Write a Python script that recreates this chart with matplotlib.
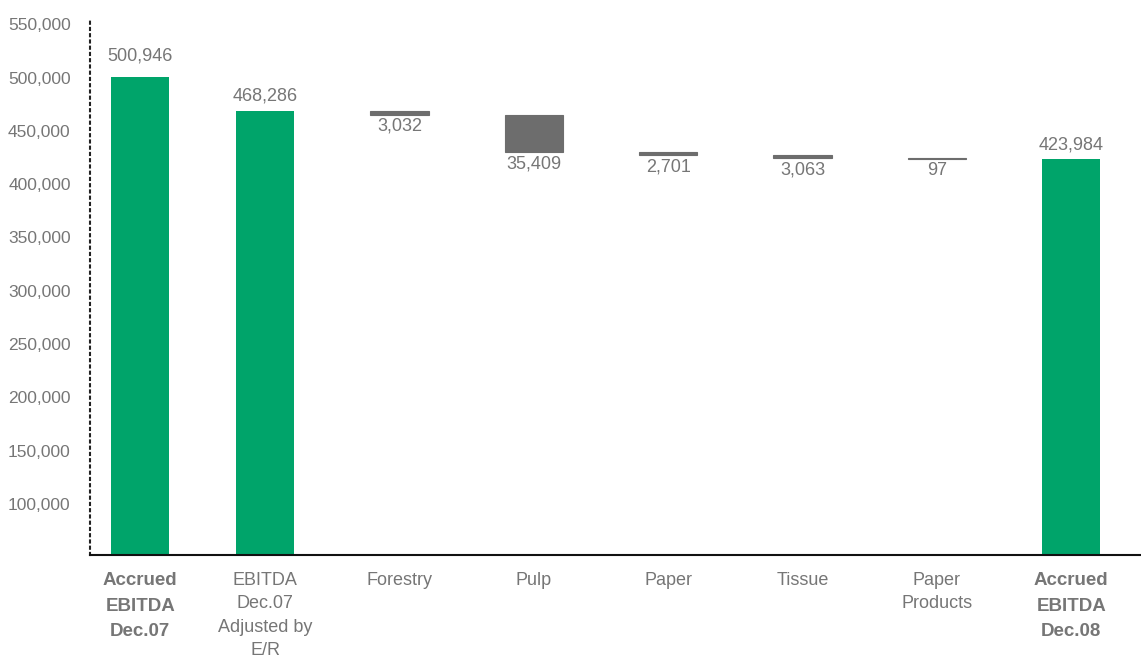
import matplotlib.pyplot as plt
import numpy as np

plt.rcParams['font.family'] = ['Liberation Sans', 'DejaVu Sans']

categories = ["Accrued\nEBITDA\nDec.07", "EBITDA\nDec.07\nAdjusted by\nE/R", "Forestry",
              "Pulp", "Paper", "Tissue", "Paper\nProducts", "Accrued\nEBITDA\nDec.08"]
start_total = 500946
adjusted_total = 468286
decreases = [3032, 35409, 2701, 3063, 97]
end_total = 423984

green = '#00a46a'
grey = '#6d6d6d'
text_grey = '#767676'

fig = plt.figure(figsize=(11.41, 6.6), dpi=100)
ax = fig.add_axes([0.079, 0.159, 0.921, 0.814])

# first column sits a little closer to the second one
x = np.array([0.07, 1, 2, 3, 4, 5, 6, 7])
width = 0.432

# totals
ax.bar(x[0], start_total, width=width, color=green)
ax.bar(x[1], adjusted_total, width=width, color=green)
ax.bar(x[-1], end_total, width=width, color=green)

lbl = dict(ha='center', fontsize=13, color=text_grey)
ax.text(x[0], start_total + 11000, f"{start_total:,}", va='bottom', **lbl)
ax.text(x[1], adjusted_total + 6000, f"{adjusted_total:,}", va='bottom', **lbl)
ax.text(x[-1], end_total + 5000, f"{end_total:,}", va='bottom', **lbl)

# falling steps
level = adjusted_total
for i, d in enumerate(decreases):
    pos = x[2 + i]
    ax.bar(pos, d, bottom=level - d, width=width, color=grey,
           edgecolor=grey, linewidth=0.8)
    ax.text(pos, level - d - 3000, f"{d:,}", va='top', **lbl)
    level -= d

ax.set_ylim(52000, 556000)
ax.set_xlim(-0.303, 7.52)
ax.set_yticks(np.arange(100000, 550001, 50000))
ax.yaxis.set_major_formatter(plt.FuncFormatter(lambda v, p: f"{int(v):,}"))
ax.tick_params(axis='y', length=0, pad=14, labelsize=12.5, labelcolor=text_grey)

ax.set_xticks(x)
ax.set_xticklabels(categories)
ax.tick_params(axis='x', length=0, pad=12, labelcolor=text_grey)
for i, lab in enumerate(ax.get_xticklabels()):
    if i in (0, len(categories) - 1):
        lab.set_fontweight('bold')
        lab.set_fontsize(13.5)
        lab.set_linespacing(1.68)
    else:
        lab.set_fontsize(13)
        lab.set_linespacing(1.5)

for s in ['top', 'right']:
    ax.spines[s].set_visible(False)
ax.spines['left'].set_linestyle((0, (1, 2)))
ax.spines['left'].set_linewidth(1.5)
ax.spines['left'].set_color('#222222')
ax.spines['bottom'].set_linewidth(1.5)
ax.spines['bottom'].set_color('#111111')

fig.savefig('out.png', dpi=100)
